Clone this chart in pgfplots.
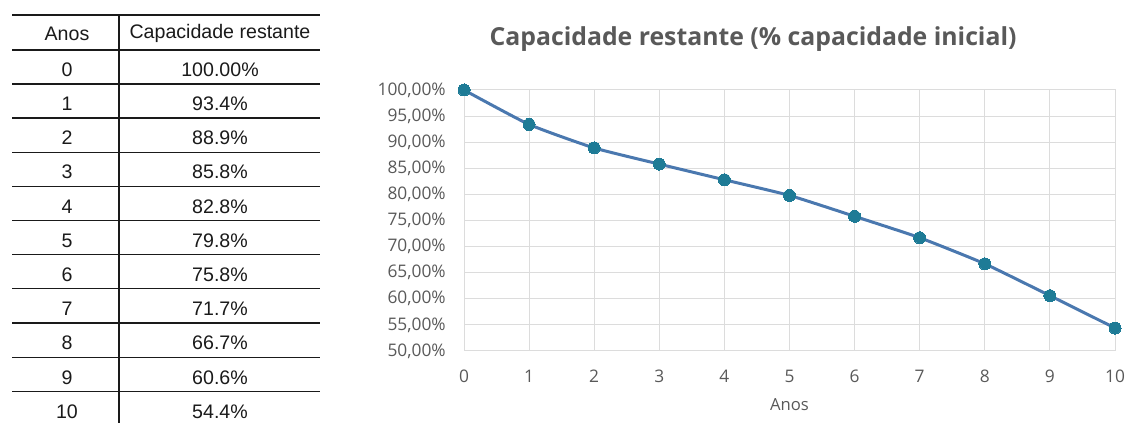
\documentclass[border=0pt]{standalone}
\usepackage{pgfplots}
\pgfplotsset{compat=1.18}
\usepackage{fontspec}
\setmainfont{Liberation Sans}
\newfontfamily\chartfont{Open Sans}
\definecolor{linec}{HTML}{4A78AF}
\definecolor{markc}{HTML}{1E7B96}
\definecolor{gridc}{HTML}{DCDCDC}
\definecolor{txtc}{HTML}{595959}
\definecolor{tabc}{HTML}{1A1A1A}
\begin{document}
\begin{tikzpicture}
\useasboundingbox (0,0) rectangle (846.75pt,-317.25pt);
\clip (0,0) rectangle (846.75pt,-317.25pt);
% table
\begin{scope}[x=0.75pt,y=-0.75pt]
\foreach \yy in {15,50,84,118,152.3,186.6,220.6,254.5,288.5,323,357.3,391.7}
  \draw[line width=0.8pt,tabc] (12,\yy) -- (320,\yy);
\draw[line width=0.8pt,tabc] (119,15) -- (119,425);
\begin{scope}[every node/.style={font=\fontsize{14.7pt}{16pt}\selectfont,text=tabc,inner sep=0pt,anchor=center}]
\node at (67,33.5) {Anos};
\node at (220,33.5) {Capacidade restante};
\foreach \r/\v [count=\i from 0] in {0/100.00\%,1/93.4\%,2/88.9\%,3/85.8\%,4/82.8\%,5/79.8\%,6/75.8\%,7/71.7\%,8/66.7\%,9/60.6\%,10/54.4\%}{
  \node at (67,{69.5+\i*34.2}) {\r};
  \node at (220,{69.5+\i*34.2}) {\v};
}
\end{scope}
\end{scope}
% chart
\begin{axis}[
  at={(348pt,-263.25pt)}, anchor=south west,
  scale only axis, width=488.25pt, height=195.75pt,
  xmin=0, xmax=10, ymin=50, ymax=100,
  xtick={0,...,10},
  ytick={50,55,...,100},
  yticklabels={{50,00\%},{55,00\%},{60,00\%},{65,00\%},{70,00\%},{75,00\%},{80,00\%},{85,00\%},{90,00\%},{95,00\%},{100,00\%}},
  grid=major,
  major grid style={gridc, line width=0.75pt},
  axis line style={gridc, line width=0.75pt},
  major tick length=0pt,
  tick style={draw=none},
  /pgf/number format/assume math mode=true,
  ticklabel style={font=\chartfont\fontsize{13pt}{14pt}\selectfont, text=txtc},
  yticklabel style={anchor=east, inner sep=0pt, xshift=-13.5pt},
  xticklabel style={anchor=center, inner sep=0pt, yshift=-18.75pt},
  xlabel={Anos},
  xlabel style={at={(axis description cs:0.5,0)}, anchor=center, yshift=-40.5pt, font=\chartfont\fontsize{12.5pt}{14pt}\selectfont, text=txtc},
  title={Capacidade restante (\% capacidade inicial)},
  title style={at={(axis description cs:0.444,1)}, anchor=center, yshift=32.25pt, font=\chartfont\bfseries\fontsize{18.6pt}{21pt}\selectfont, text=txtc},
  clip=false,
]
\addplot[linec, line width=2.25pt, smooth, tension=0.3, mark=*, mark size=4.5pt, mark options={draw=markc, fill=markc, line width=0pt}]
coordinates {(0,100) (1,93.4) (2,88.9) (3,85.8) (4,82.8) (5,79.8) (6,75.8) (7,71.7) (8,66.7) (9,60.6) (10,54.4)};
\end{axis}
\end{tikzpicture}
\end{document}
